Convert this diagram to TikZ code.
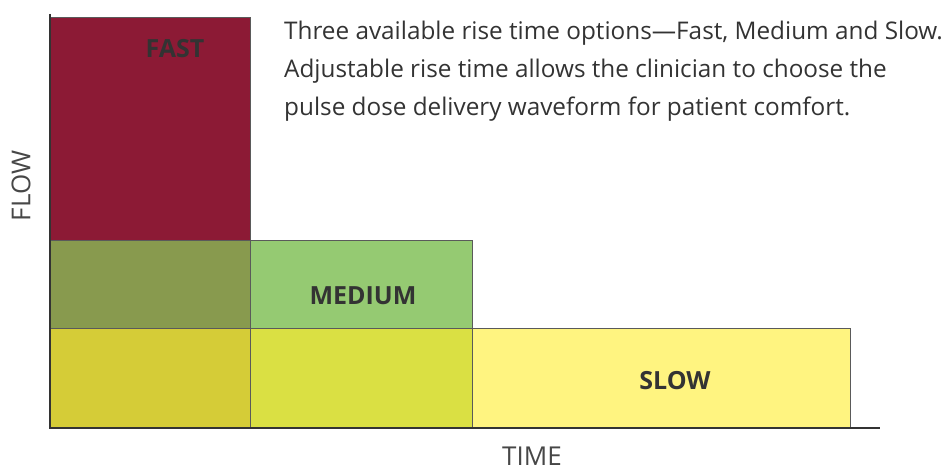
\documentclass[tikz,border=0pt]{standalone}
\usepackage{fontspec}
\setmainfont{Open Sans}
\definecolor{fastc}{HTML}{8C1A35}
\definecolor{fmc}{HTML}{889A4E}
\definecolor{medc}{HTML}{95CA72}
\definecolor{allc}{HTML}{D5CC37}
\definecolor{msc}{HTML}{DAE043}
\definecolor{slowc}{HTML}{FFF480}
\definecolor{txt}{HTML}{333333}
\definecolor{edge}{HTML}{5A5A5A}
\begin{document}
\begin{tikzpicture}[x=1pt,y=-1pt,
  outline/.style={draw=edge,line width=0.9pt},
  axis/.style={draw=txt,line width=1.4pt},
  barlabel/.style={font=\bfseries\fontsize{25}{28}\selectfont,text=txt,inner sep=0pt},
  axislabel/.style={font=\fontsize{26}{30}\selectfont,text=txt!90,inner sep=0pt},
  para/.style={font=\fontsize{24.3}{28}\selectfont,text=txt,inner sep=0pt,anchor=base west}]
\useasboundingbox (0,0) rectangle (951,470);
% regions
\fill[fastc] (50,17) rectangle (250,240);
\fill[fmc] (50,240) rectangle (250,328);
\fill[medc] (250,240) rectangle (472,328);
\fill[allc] (50,328) rectangle (250,428);
\fill[msc] (250,328) rectangle (472,428);
\fill[slowc] (472,328) rectangle (850,428);
% outlines
\draw[outline] (50,17) rectangle (250,428);
\draw[outline] (50,240) rectangle (472,428);
\draw[outline] (50,328) rectangle (850,428);
% axes
\coordinate (ytop) at (50,14);
\coordinate (orig) at (50,428);
\coordinate (xend) at (880,428);
\draw[axis] (ytop) -- (orig) -- (xend);
% labels
\node[barlabel] (fast) at (175,49) {FAST};
\node[barlabel] (medium) at (363,296) {MEDIUM};
\node[barlabel] (slow) at (675,381) {SLOW};
\node[axislabel,rotate=90] (flow) at (21,186) {FLOW};
\node[axislabel] (time) at (532,456) {TIME};
\node[para] (l1) at (284,40) {Three available rise time options—Fast, Medium and Slow.};
\node[para] (l2) at (284,78) {Adjustable rise time allows the clinician to choose the};
\node[para] (l3) at (284,116) {pulse dose delivery waveform for patient comfort.};
\end{tikzpicture}
\end{document}
